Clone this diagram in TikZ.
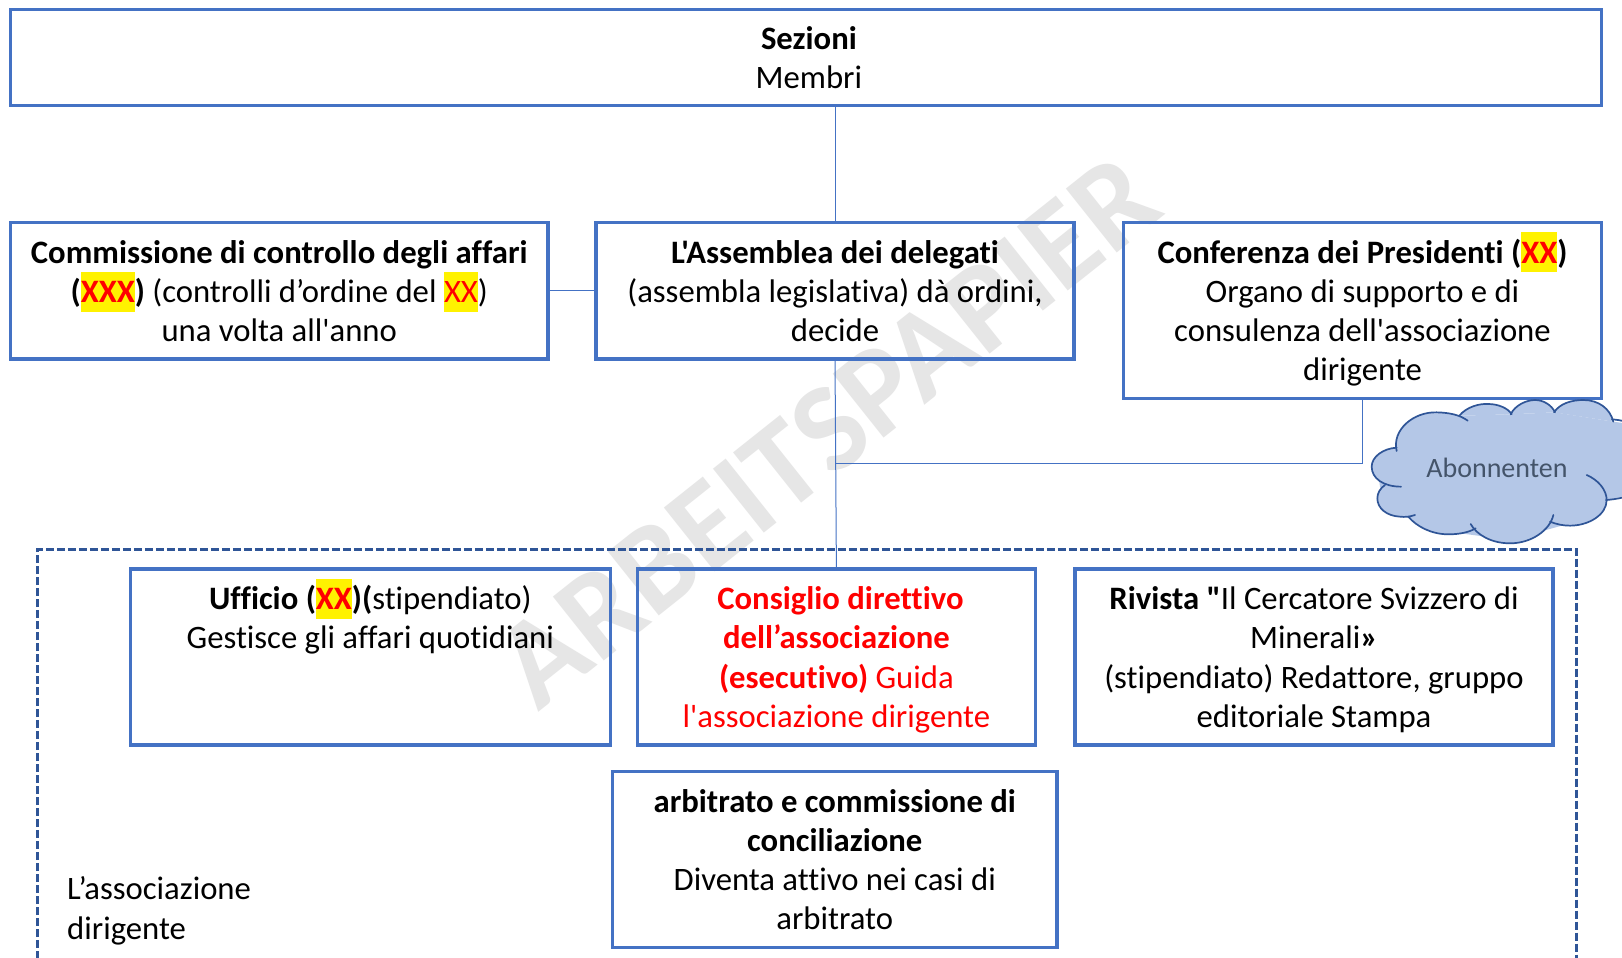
\documentclass[tikz,border=0pt]{standalone}
\usepackage{fontspec}
\setmainfont[Ligatures={TeXOff,CommonOff}]{Carlito}
\definecolor{boxblue}{HTML}{4472C4}
\definecolor{darkblue}{HTML}{2F5597}
\definecolor{cloudfill}{HTML}{B4C7E7}
\definecolor{cloudtext}{HTML}{44546A}
\definecolor{wmark}{HTML}{E6E6E6}
\newcommand{\hlbox}[1]{\smash{\setlength{\fboxsep}{0pt}\colorbox{yellow}{\rule[-9.3pt]{0pt}{40pt}\textcolor{red}{#1}}}}
\newcommand{\bodyfont}{\fontsize{32.7}{39.2}\selectfont}
\newcommand{\lst}{\rule[-8.2pt]{0pt}{39.2pt}}
\tikzset{
  x=1pt,y=1pt,
  boxn/.style={draw=boxblue,line width=3.2pt,rectangle,inner sep=0pt,outer sep=0pt,align=center,font=\bodyfont},
  conn/.style={draw=boxblue,line width=1pt},
  framedash/.style={draw=darkblue,line width=2.8pt,dash pattern=on 8pt off 3pt},
  lobe/.style={draw=none,fill=cloudfill},
  lobeline/.style={draw=darkblue,line width=1.7pt,line cap=round},
}
\newcommand{\cloudlobes}[1]{%
  \path[#1] (290,213) .. controls (275,150) and (340,95) .. (410,97) .. controls (450,98) and (480,105) .. (503,122);
  \path[#1] (478,107) .. controls (500,80) and (540,70) .. (565,72) .. controls (595,72) and (625,85) .. (635,103);
  \path[#1] (632,103) .. controls (645,75) and (680,60) .. (705,60) .. controls (730,60) and (755,75) .. (765,97);
  \path[#1] (762,97) .. controls (780,70) and (815,60) .. (850,60) .. controls (895,60) and (930,85) .. (940,125);
  \path[#1] (936,118) .. controls (960,120) and (985,125) .. (1010,135);
  \path[#1] (1010,340) .. controls (985,350) and (950,358) .. (918,360);
  \path[#1] (860,285) .. controls (895,300) and (920,330) .. (920,360) .. controls (920,405) and (865,437) .. (810,437) .. controls (790,437) and (770,433) .. (750,425);
  \path[#1] (760,405) .. controls (750,450) and (695,490) .. (630,490) .. controls (575,490) and (530,465) .. (512,432);
  \path[#1] (527,445) .. controls (505,458) and (475,463) .. (445,463) .. controls (395,463) and (350,440) .. (325,410);
  \path[#1] (345,405) .. controls (330,410) and (315,412) .. (300,410) .. controls (260,408) and (232,385) .. (232,355) .. controls (232,340) and (240,325) .. (255,315);
  \path[#1] (303,320) .. controls (250,320) and (215,295) .. (215,260) .. controls (215,230) and (250,205) .. (290,203);
}
\begin{document}
\begin{tikzpicture}
\useasboundingbox (0,0) rectangle (1622,-958);
\clip (0,0) rectangle (1622,-958);
\fill[white] (0,0) rectangle (1622,-958);
% watermark
\node[text=wmark,font=\fontsize{126}{126}\selectfont\bfseries,rotate=38.5,inner sep=0pt] (wm) at (827,-431) {ARBEITSPAPIER};
% dashed frame
\draw[framedash] (37.5,-970) -- (37.5,-549.3) -- (1576.6,-549.3) -- (1576.6,-970);
% boxes
\node[boxn,minimum width=1591.2,minimum height=96.2] (sezioni) at (805.9,-57.4)
  {\hspace*{6pt}\lst\textbf{Sezioni}\\\hspace*{6pt}\lst Membri};
\node[boxn,minimum width=537.5,minimum height=136.3] (comm) at (279.25,-290.85)
  {\lst\textbf{Commissione di controllo degli affari}\\
   \lst\textbf{(\hlbox{XXX})} (controlli d’ordine del \hlbox{XX})\\
   \lst una volta all'anno};
\node[boxn,minimum width=478,minimum height=136.3] (assem) at (835,-290.85)
  {\lst\textbf{L'Assemblea dei delegati}\\
   \lst(assembla legislativa) dà ordini,\\
   \lst decide};
\node[boxn,minimum width=478,minimum height=175.9] (conf) at (1362.5,-310.5)
  {\lst\textbf{Conferenza dei Presidenti (\hlbox{XX})}\\
   \lst Organo di supporto e di\\
   \lst consulenza dell'associazione\\
   \lst dirigente};
\node[boxn,minimum width=480.1,minimum height=176] (uff) at (370.35,-657)
  {\lst\textbf{Ufficio (\hlbox{XX})(}stipendiato)\\
   \lst Gestisce gli affari quotidiani\\
   \lst\\
   \lst};
\node[boxn,minimum width=398.2,minimum height=176,text=red] (cons) at (836.4,-657)
  {\hspace*{8pt}\lst\textbf{Consiglio direttivo}\\
   \lst\textbf{dell’associazione}\\
   \lst\textbf{(esecutivo)} Guida\\
   \lst l'associazione dirigente};
\node[boxn,minimum width=478,minimum height=176] (riv) at (1314,-657)
  {\lst\textbf{Rivista "}Il Cercatore Svizzero di\\
   \lst Minerali\textbf{»}\\
   \lst(stipendiato) Redattore, gruppo\\
   \lst editoriale Stampa};
\node[boxn,minimum width=444.5,minimum height=175.9] (arb) at (834.75,-859.65)
  {\lst\textbf{arbitrato e commissione di}\\
   \lst\textbf{conciliazione}\\
   \lst Diventa attivo nei casi di\\
   \lst arbitrato};
\node[align=left,inner sep=0pt,anchor=west,font=\bodyfont] (assoc) at (67,-908)
  {\lst L’associazione\\\lst dirigente};
% connectors
\coordinate (junction) at (836,-463.5);
\draw[conn] (assem.north) -- (assem.north |- sezioni.south);
\draw[conn] (comm.east) -- (assem.west);
\draw[conn] (assem.south) -- (cons.north);
\draw[conn] (conf.south) |- (junction);
% cloud
\begin{scope}[shift={(1300,-380)},x=0.33333pt,y=-0.33333pt]
  \fill[cloudfill] (295,205) -- (478,107) -- (632,103) -- (765,97) -- (940,125) -- (1010,135) -- (1010,340) -- (918,360) -- (810,430) -- (630,480) -- (445,455) -- (300,400) -- (240,320) -- (230,250) -- cycle;
  \cloudlobes{lobe}
  \cloudlobes{lobeline}
\end{scope}
\node[text=cloudtext,inner sep=0pt,font=\fontsize{28}{30}\selectfont] (abon) at (1497,-468) {Abonnenten};
\end{tikzpicture}
\end{document}
